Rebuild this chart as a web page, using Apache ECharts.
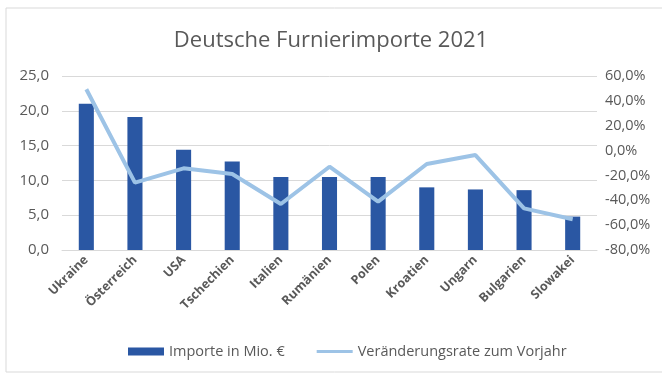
<!DOCTYPE html>
<html>
<head>
<meta charset="utf-8">
<script src="https://cdn.jsdelivr.net/npm/echarts@6/dist/echarts.min.js"></script>
<style>
  html, body { margin: 0; padding: 0; background: #fff; }
  #box { width: 662px; height: 378px; }
</style>
</head>
<body>
<div id="box"></div>
<script>
const laender = ['Ukraine', 'Österreich', 'USA', 'Tschechien', 'Italien', 'Rumänien', 'Polen', 'Kroatien', 'Ungarn', 'Bulgarien', 'Slowakei'];
const importe = [21.0, 19.1, 14.4, 12.7, 10.5, 10.5, 10.5, 9.0, 8.7, 8.6, 4.8];
const veraenderung = [49.3, -25.8, -14.3, -18.9, -43.0, -13.0, -41.1, -10.8, -3.6, -46.5, -55.3];

const fmt = v => v.toFixed(1).replace('.', ',');

let myecharts = echarts.init(document.getElementById('box'));
let options = {
  animation: false,
  textStyle: { fontFamily: 'Open Sans' },
  title: {
    text: 'Deutsche Furnierimporte 2021',
    left: 'center',
    top: 25,
    textStyle: { fontSize: 22, fontWeight: 'normal', color: '#595959', fontFamily: 'Open Sans' }
  },
  graphic: [{
    type: 'rect',
    shape: { x: 6, y: 8, width: 670, height: 364 },
    style: { fill: 'none', stroke: '#d9d9d9', lineWidth: 1 },
    silent: true
  }],
  legend: {
    bottom: 14,
    left: 123,
    itemGap: 32,
    itemWidth: 36,
    itemHeight: 8,
    textStyle: { fontSize: 14.5, color: '#595959' },
    data: [
      { name: 'Importe in Mio. €', icon: 'rect' },
      { name: 'Veränderungsrate zum Vorjahr', icon: 'path://M0,0 L36,0 L36,3 L0,3 Z', itemStyle: { color: '#9dc3e6' } }
    ]
  },
  grid: { left: 62, right: 65, top: 76, bottom: 128 },
  xAxis: {
    type: 'category',
    data: laender,
    axisLine: { lineStyle: { color: '#d9d9d9' } },
    axisTick: { show: false },
    axisLabel: { rotate: 45, fontWeight: 'bold', fontSize: 12.5, color: '#595959', interval: 0, margin: 8 }
  },
  yAxis: [{
    type: 'value',
    min: 0, max: 25, interval: 5,
    axisLabel: { formatter: fmt, fontSize: 15, color: '#595959', margin: 13 },
    splitLine: { lineStyle: { color: '#d9d9d9' } },
    axisLine: { show: false }
  }, {
    type: 'value',
    min: -80, max: 60, interval: 20,
    axisLabel: { formatter: v => fmt(v) + '%', fontSize: 14.5, color: '#595959', margin: 8 },
    splitLine: { show: false },
    axisLine: { show: false }
  }],
  series: [{
    name: 'Importe in Mio. €',
    type: 'bar',
    data: importe,
    barWidth: '31%',
    itemStyle: { color: '#2a57a3' }
  }, {
    name: 'Veränderungsrate zum Vorjahr',
    type: 'line',
    yAxisIndex: 1,
    data: veraenderung,
    symbol: 'none',
    lineStyle: { color: '#9dc3e6', width: 4 },
    itemStyle: { color: '#9dc3e6' }
  }]
};
myecharts.setOption(options);
</script>
</body>
</html>
